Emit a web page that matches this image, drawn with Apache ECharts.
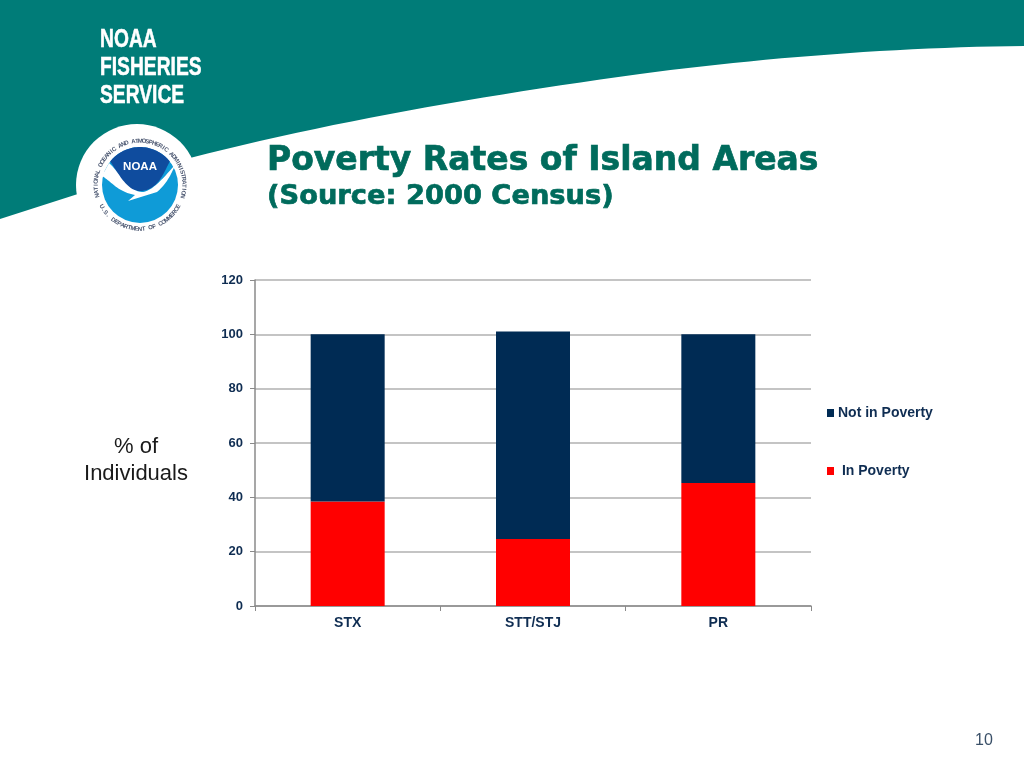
<!DOCTYPE html>
<html>
<head>
<meta charset="utf-8">
<style>html,body{margin:0;padding:0;background:#fff}#c{width:1024px;height:768px}</style>
<script src="https://cdn.jsdelivr.net/npm/echarts@6/dist/echarts.min.js"></script>
</head>
<body>
<div id="c"></div>
<script>
const categories = ['STX', 'STT/STJ', 'PR'];
const inPoverty = [38.5, 24.7, 45.3];
const notInPoverty = [61.5, 76.3, 54.7];
const seriesNames = ['In Poverty', 'Not in Poverty'];
const legendOrder = ['Not in Poverty', 'In Poverty'];
const yTickMax = 120;
const yTickStep = 20;

const ink = '#0F2D52';
const teal = '#007C78';
const ringTop = 'NATIONAL OCEANIC AND ATMOSPHERIC ADMINISTRATION';
const ringBottom = 'U.S. DEPARTMENT OF COMMERCE';

// Outline helper for the slide's decorative shapes: [x,y] = line, [c1x,c1y,c2x,c2y,x,y] = cubic.
function outline(segs) {
  const pts = [];
  let px = 0, py = 0;
  segs.forEach(function (s) {
    if (s.length === 2) { pts.push(s); px = s[0]; py = s[1]; return; }
    for (let i = 1; i <= 24; i++) {
      const t = i / 24, u = 1 - t;
      pts.push([
        u*u*u*px + 3*u*u*t*s[0] + 3*u*t*t*s[2] + t*t*t*s[4],
        u*u*u*py + 3*u*u*t*s[1] + 3*u*t*t*s[3] + t*t*t*s[5]
      ]);
    }
    px = s[4]; py = s[5];
  });
  return pts;
}
function arcPts(cx, cy, r, fromDeg, toDeg) {
  const pts = [];
  for (let i = 0; i <= 40; i++) {
    const a = (fromDeg + (toDeg - fromDeg) * i / 40) * Math.PI / 180;
    pts.push([cx + r * Math.sin(a), cy - r * Math.cos(a)]);
  }
  return pts;
}

function ringChars(text, cx, cy, r, startDeg, endDeg, bottom) {
  const out = [];
  const n = text.length;
  for (let i = 0; i < n; i++) {
    const deg = startDeg + (endDeg - startDeg) * (i + 0.5) / n;
    const a = deg * Math.PI / 180;
    out.push({
      type: 'text', z: 6,
      x: cx + r * Math.sin(a), y: cy - r * Math.cos(a),
      rotation: bottom ? -(a - Math.PI) : -a,
      style: { text: text[i], fill: '#4A5670', font: 'bold 6px "Liberation Sans"', align: 'center', verticalAlign: 'middle' }
    });
  }
  return out;
}

function logoLine(text, y) {
  return { type: 'text', z: 3, x: 100, y: y, scaleX: 0.77, style: { text: text, fill: '#fff', stroke: '#fff', lineWidth: 0.5, font: 'bold 25px "Liberation Sans"', verticalAlign: 'middle' } };
}
function titleLine(text, y, size) {
  return { type: 'text', z: 7, x: 267, y: y, style: { text: text, fill: '#006B5C', stroke: '#006B5C', lineWidth: 0.7, font: 'bold ' + size + 'px "DejaVu Sans"', verticalAlign: 'middle' } };
}

const decorations = [
  { type: 'polygon', z: 1, shape: { points: outline([[0,0],[1024,0],[1024,46],[900,47,760,58,640,74],[480,96,330,122,190,158],[0,219]]) }, style: { fill: teal } },
  { type: 'circle', z: 2, shape: { cx: 137, cy: 185, r: 61 }, style: { fill: '#fff' } },
  { type: 'circle', z: 4, shape: { cx: 140, cy: 185, r: 38 }, style: { fill: '#0F9BD7' } },
  { type: 'polygon', z: 5, shape: { points: arcPts(140, 185, 38, -52, 52).concat(outline([[170,161],[164,172,158,191,140,191],[124,191,118,172,110,161]])) }, style: { fill: '#0F4C9E' } },
  { type: 'polygon', z: 5, shape: { points: outline([[102,176],[109,163],[120,172,124,190,142,192],[152,192,165,176,175,165],[170,178,164,186,157,192],[128,201],[135,195],[118,192,112,182,102,176]]) }, style: { fill: '#fff' } },
  { type: 'text', z: 6, x: 140, y: 167, style: { text: 'NOAA', fill: '#fff', font: 'bold 11.5px "Liberation Sans"', align: 'center', verticalAlign: 'middle' } },
  ...ringChars(ringTop, 140, 185, 44, -106, 107, false),
  ...ringChars(ringBottom, 140, 185, 44, 243, 117, true),
  logoLine('NOAA', 40),
  logoLine('FISHERIES', 68),
  logoLine('SERVICE', 96),
  titleLine('Poverty Rates of Island Areas', 161, 33),
  titleLine('(Source: 2000 Census)', 197, 27.3),
  { type: 'text', z: 7, x: 136, y: 447, style: { text: '% of', fill: '#1a1a1a', font: '22px "Liberation Sans"', align: 'center', verticalAlign: 'middle' } },
  { type: 'text', z: 7, x: 136, y: 474, style: { text: 'Individuals', fill: '#1a1a1a', font: '22px "Liberation Sans"', align: 'center', verticalAlign: 'middle' } },
  { type: 'text', z: 7, x: 984, y: 741, style: { text: '10', fill: '#3A5068', font: '16px "Liberation Sans"', align: 'center', verticalAlign: 'middle' } }
];

const chart = echarts.init(document.getElementById('c'), null, { renderer: 'canvas' });
chart.setOption({
  animation: false,
  backgroundColor: '#fff',
  textStyle: { fontFamily: '"Liberation Sans"' },
  grid: { left: 255, top: 280, width: 556, height: 326, containLabel: false },
  legend: {
    orient: 'vertical', left: 822, top: 401, itemWidth: 7, itemHeight: 8, itemGap: 44,
    data: legendOrder,
    icon: 'rect',
    formatter: function (name) { return name === 'In Poverty' ? ' In Poverty' : name; },
    textStyle: { color: ink, fontWeight: 'bold', fontSize: 14, fontFamily: '"Liberation Sans"', padding: [0, 0, 0, -1] }
  },
  xAxis: {
    type: 'category', data: categories,
    axisLine: { lineStyle: { color: '#8A8A8A', width: 1.5 } },
    axisTick: { show: true, alignWithLabel: false, length: 5, inside: false, lineStyle: { color: '#8A8A8A' } },
    axisLabel: { color: ink, fontWeight: 'bold', fontSize: 14, margin: 10 },
    splitLine: { show: false }
  },
  yAxis: {
    type: 'value', min: 0, max: yTickMax, interval: yTickStep,
    axisLine: { show: true, lineStyle: { color: '#8A8A8A', width: 1.5 } },
    axisTick: { show: true, length: 5, lineStyle: { color: '#8A8A8A' } },
    axisLabel: { color: ink, fontWeight: 'bold', fontSize: 13, margin: 12 },
    splitLine: { show: true, lineStyle: { color: '#B0B0B0', width: 1.5 } }
  },
  series: [
    { name: seriesNames[0], type: 'bar', stack: 'total', barWidth: 74, data: inPoverty, itemStyle: { color: '#FF0000' } },
    { name: seriesNames[1], type: 'bar', stack: 'total', barWidth: 74, data: notInPoverty, itemStyle: { color: '#002B54' } }
  ],
  graphic: { elements: decorations }
});
</script>
</body>
</html>
